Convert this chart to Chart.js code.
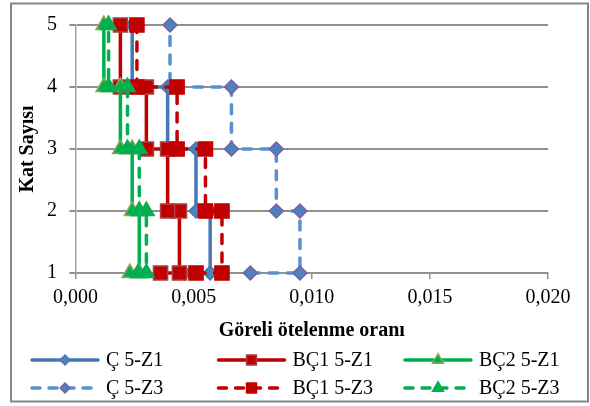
<!DOCTYPE html>
<html>
<head>
<meta charset="utf-8">
<script src="https://cdn.jsdelivr.net/npm/chart.js@4.4.1/dist/chart.umd.min.js"></script>
<style>
html, body { margin: 0; padding: 0; background: #fff; }
#kutu { width: 590px; height: 406px; }
</style>
</head>
<body>
<div id="kutu"><canvas id="otelenmeChart" width="590" height="406"></canvas></div>
<script>
// kat seviyeleri (her seri icin ayni sira)
const katSeviyeleri = [1, 1, 2, 2, 3, 3, 4, 4, 5];

const cZ1   = [0.0046, 0.0057, 0.0057, 0.0051, 0.0051, 0.0039, 0.0039, 0.0024, 0.0024];
const bc1Z1 = [0.0036, 0.0044, 0.0044, 0.0039, 0.0039, 0.0030, 0.0030, 0.0019, 0.0019];
const bc2Z1 = [0.0023, 0.0027, 0.0027, 0.0024, 0.0024, 0.0019, 0.0019, 0.0012, 0.0012];
const cZ3   = [0.0074, 0.0095, 0.0095, 0.0085, 0.0085, 0.0066, 0.0066, 0.0040, 0.0040];
const bc1Z3 = [0.0051, 0.0062, 0.0062, 0.0055, 0.0055, 0.0043, 0.0043, 0.0026, 0.0026];
const bc2Z3 = [0.00265, 0.0030, 0.0030, 0.0027, 0.0027, 0.0022, 0.0022, 0.0014, 0.0014];

const seriAdlari = ['Ç 5-Z1', 'BÇ1 5-Z1', 'BÇ2 5-Z1', 'Ç 5-Z3', 'BÇ1 5-Z3', 'BÇ2 5-Z3'];

const xTicks = [0, 0.005, 0.010, 0.015, 0.020];
const xTickLabels = ['0,000', '0,005', '0,010', '0,015', '0,020'];
const yTicks = [1, 2, 3, 4, 5];
const yTickLabels = ['1', '2', '3', '4', '5'];

const YAZI = "'Liberation Serif', 'Times New Roman', serif";
const GRI = '#909090';

function seri(i, xs, cizgi, dolgu, kenar, stil, r, kesik) {
    return {
        label: seriAdlari[i],
        data: xs.map((x, k) => ({ x: x, y: katSeviyeleri[k] })),
        showLine: true,
        clip: false,
        borderColor: cizgi,
        backgroundColor: dolgu,
        borderWidth: 3.5,
        borderDash: kesik ? [9, 9.5] : [],
        borderCapStyle: 'round',
        borderJoinStyle: 'round',
        pointStyle: stil,
        pointRadius: r,
        pointBackgroundColor: dolgu,
        pointBorderColor: kenar,
        pointBorderWidth: 1.5,
        tension: 0,
        order: 6 - i   // excel gibi: sonraki seri ustte
    };
}

const datasets = [
    seri(0, cZ1,   '#4677b3', '#4f81bd', '#4677b3', 'rectRot', 7, false),
    seri(1, bc1Z1, '#c00000', '#c00000', '#a94242', 'rect', 10, false),
    seri(2, bc2Z1, '#00b050', '#00b050', '#8fa850', 'triangle', 9, false),
    seri(3, cZ3,   '#5a8fd2', '#4f81bd', '#7b5ea7', 'rectRot', 7, true),
    seri(4, bc1Z3, '#c00000', '#c00000', '#c00000', 'rect', 10, true),
    seri(5, bc2Z3, '#00b050', '#00b050', '#00b050', 'triangle', 9, true)
];

// dis cerceve
const cerceve = {
    id: 'cerceve',
    beforeDraw(chart) {
        const ctx = chart.ctx;
        ctx.save();
        ctx.fillStyle = '#fff';
        ctx.fillRect(0, 0, chart.width, chart.height);
        ctx.strokeStyle = '#858585';
        ctx.lineWidth = 2;
        ctx.strokeRect(11, 3.5, 577, 398);
        ctx.restore();
    }
};

// 3 sutunlu lejant (cizgi + isaret)
const lejant = {
    id: 'lejant',
    afterDraw(chart) {
        const ctx = chart.ctx;
        chart.data.datasets.forEach((ds, i) => {
            const x0 = 30 + (i % 3) * 186.5;
            const y0 = 360 + Math.floor(i / 3) * 28;
            ctx.save();
            ctx.strokeStyle = ds.borderColor;
            ctx.lineWidth = 3.5;
            ctx.lineCap = 'round';
            ctx.setLineDash(ds.borderDash.length ? [8, 9] : []);
            ctx.beginPath();
            ctx.moveTo(x0 + 2, y0);
            ctx.lineTo(x0 + 68, y0);
            ctx.stroke();
            ctx.setLineDash([]);
            ctx.fillStyle = ds.pointBackgroundColor;
            ctx.strokeStyle = ds.pointBorderColor;
            ctx.lineWidth = 1.5;
            Chart.helpers.drawPoint(ctx, {
                pointStyle: ds.pointStyle,
                radius: ds.pointRadius * 0.7,
                rotation: 0,
                borderWidth: 1.5
            }, x0 + 35, y0);
            ctx.fillStyle = '#000';
            ctx.font = '20px ' + YAZI;
            ctx.textBaseline = 'middle';
            ctx.textAlign = 'left';
            ctx.fillText(ds.label, x0 + 76, y0 + 1);
            ctx.restore();
        });
    }
};

new Chart(document.getElementById('otelenmeChart'), {
    type: 'scatter',
    data: { datasets: datasets },
    options: {
        responsive: false,
        animation: false,
        layout: { padding: { left: 12, right: 42, top: 25, bottom: 63 } },
        plugins: {
            legend: { display: false },
            tooltip: { enabled: false }
        },
        scales: {
            x: {
                type: 'linear',
                min: 0,
                max: 0.02,
                afterBuildTicks: s => { s.ticks = xTicks.map(v => ({ value: v })); },
                afterFit: s => { s.height = 70; },
                ticks: {
                    padding: 7,
                    color: '#000',
                    font: { family: YAZI, size: 20 },
                    callback: (v, idx) => xTickLabels[idx]
                },
                grid: { drawOnChartArea: false, drawTicks: true, tickLength: 6, color: GRI, lineWidth: 1.5 },
                border: { display: true, color: GRI, width: 1.5 },
                title: {
                    display: true,
                    text: 'Göreli ötelenme oranı',
                    color: '#000',
                    font: { family: YAZI, size: 20, weight: 'bold' },
                    padding: { top: 0, bottom: 0 }
                }
            },
            y: {
                type: 'linear',
                min: 1,
                max: 5,
                afterBuildTicks: s => { s.ticks = yTicks.map(v => ({ value: v })); },
                afterFit: s => { s.width = 63.5; },
                ticks: {
                    padding: 12.5,
                    color: '#000',
                    font: { family: YAZI, size: 20 },
                    callback: (v, idx) => yTickLabels[idx]
                },
                grid: { color: GRI, lineWidth: 2, tickLength: 6 },
                border: { display: true, color: '#a0a0a0', width: 1.5 },
                title: {
                    display: true,
                    text: 'Kat Sayısı',
                    color: '#000',
                    font: { family: YAZI, size: 20, weight: 'bold' },
                    padding: { top: 4, bottom: 0 }
                }
            }
        }
    },
    plugins: [cerceve, lejant]
});
</script>
</body>
</html>
